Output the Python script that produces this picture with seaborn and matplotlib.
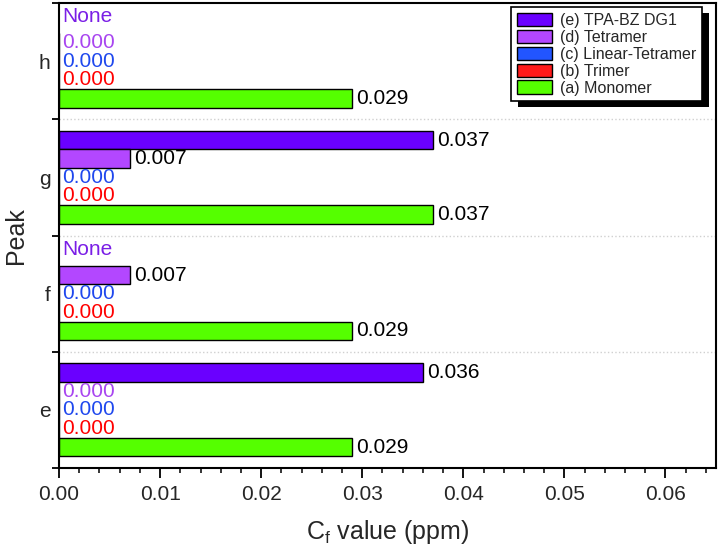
import numpy as np
import pandas as pd
import matplotlib
matplotlib.use("Agg")
import matplotlib.pyplot as plt
from matplotlib.patches import Rectangle
from matplotlib.ticker import MultipleLocator, FormatStrFormatter
import seaborn as sns

# ---- data ----
peaks = ['h', 'g', 'f', 'e']
series = ['(e) TPA-BZ DG1', '(d) Tetramer', '(c) Linear-Tetramer', '(b) Trimer', '(a) Monomer']
tpa_bz_dg1 = [None, 0.037, None, 0.036]
tetramer = [0.000, 0.007, 0.007, 0.000]
linear_tetramer = [0.000, 0.000, 0.000, 0.000]
trimer = [0.000, 0.000, 0.000, 0.000]
monomer = [0.029, 0.037, 0.029, 0.029]

bar_colors = ['#6a00ff', '#b347ff', '#2255ff', '#ff1a1a', '#55ff00']
zero_text_colors = ['#7a1ee6', '#a845f0', '#1f48ee', '#ff0000', '#33aa00']
none_color = '#7a1ee6'

values = [tpa_bz_dg1, tetramer, linear_tetramer, trimer, monomer]
rows = []
for s, vals in zip(series, values):
    for p, v in zip(peaks, vals):
        if v is not None:
            rows.append({'Peak': p, 'Series': s, 'value': v})
df = pd.DataFrame(rows)

sns.set_theme(style='ticks')
plt.rcParams['font.family'] = ['Liberation Sans', 'DejaVu Sans']
plt.rcParams['mathtext.default'] = 'regular'

fig = plt.figure(figsize=(7.18, 5.47), dpi=100)
ax = fig.add_axes([59 / 718, 79 / 547, 657 / 718, 465 / 547])

sns.barplot(data=df, y='Peak', x='value', hue='Series', order=peaks,
            hue_order=series, palette=bar_colors, saturation=1, orient='h',
            width=0.8, edgecolor='black', linewidth=1.0, errorbar=None,
            ax=ax, legend=True)

ax.set_xlim(0, 0.065)
ax.set_ylim(3.5, -0.5)

# value labels
offsets = {}
for i, (s, cont) in enumerate(zip(series, ax.containers)):
    for bar in cont:
        w = bar.get_width()
        if not np.isfinite(w):
            continue
        yc = bar.get_y() + bar.get_height() / 2
        cat = int(round(yc))
        offsets[i] = yc - cat
        if w > 0:
            ax.text(w + 0.0004, yc, f'{w:.3f}', va='center', ha='left',
                    fontsize=15, color='black')
        else:
            ax.text(0.0003, yc, f'{w:.3f}', va='center', ha='left',
                    fontsize=15, color=zero_text_colors[i])
# None labels
for i, vals in enumerate(values):
    for j, v in enumerate(vals):
        if v is None:
            yc = j + offsets.get(i, -0.32) - 0.06
            ax.text(0.0003, yc, 'None', va='center', ha='left',
                    fontsize=15, color=none_color)

# dotted separators
for yb in [0.5, 1.5, 2.5]:
    ax.axhline(yb, color='#d0d0d0', ls=':', lw=1, zorder=0)

# ticks
ax.xaxis.set_major_locator(MultipleLocator(0.01))
ax.xaxis.set_minor_locator(MultipleLocator(0.002))
ax.xaxis.set_major_formatter(FormatStrFormatter('%.2f'))
ax.tick_params(axis='x', which='major', length=7, width=1.3, pad=5,
               labelsize=15, direction='out', color='black')
ax.tick_params(axis='x', which='minor', length=3.5, width=1.1,
               direction='out', color='black')
ax.set_yticks([0, 1, 2, 3])
ax.set_yticklabels(peaks)
ax.set_yticks([-0.5, 0.5, 1.5, 2.5, 3.5], minor=True)
ax.tick_params(axis='y', which='major', length=0, pad=6, labelsize=15)
ax.tick_params(axis='y', which='minor', length=5, width=1.3,
               direction='out', color='black')

for sp in ax.spines.values():
    sp.set_visible(True)
    sp.set_color('black')
    sp.set_linewidth(1.5)

ax.set_xlabel('C$_{f}$ value (ppm)', fontsize=18, labelpad=10)
ax.set_ylabel('Peak', fontsize=18, labelpad=8)

# legend
old = ax.get_legend()
handles = old.legend_handles
labels = [t.get_text() for t in old.get_texts()]
old.remove()
leg = ax.legend(handles, labels, loc='upper right',
                bbox_to_anchor=(0.9787, 0.9914), borderaxespad=0,
                fontsize=11.5, frameon=True, fancybox=False, framealpha=1,
                edgecolor='black', handlelength=2.2, handleheight=0.95,
                labelspacing=0.1, handletextpad=0.5, borderpad=0.35)
leg.get_frame().set_linewidth(1.2)
for h in leg.legend_handles:
    h.set_edgecolor('black')
    h.set_linewidth(1.0)
leg.set_zorder(6)

fig.canvas.draw()
bb = leg.get_window_extent().transformed(ax.transAxes.inverted())
dx = 7 / 657
dy = 6 / 465
shadow = Rectangle((bb.x0 + dx, bb.y0 - dy), bb.width, bb.height,
                   transform=ax.transAxes, facecolor='black',
                   edgecolor='none', zorder=5.5, clip_on=False)
ax.add_patch(shadow)

fig.savefig('out.png', dpi=100)
